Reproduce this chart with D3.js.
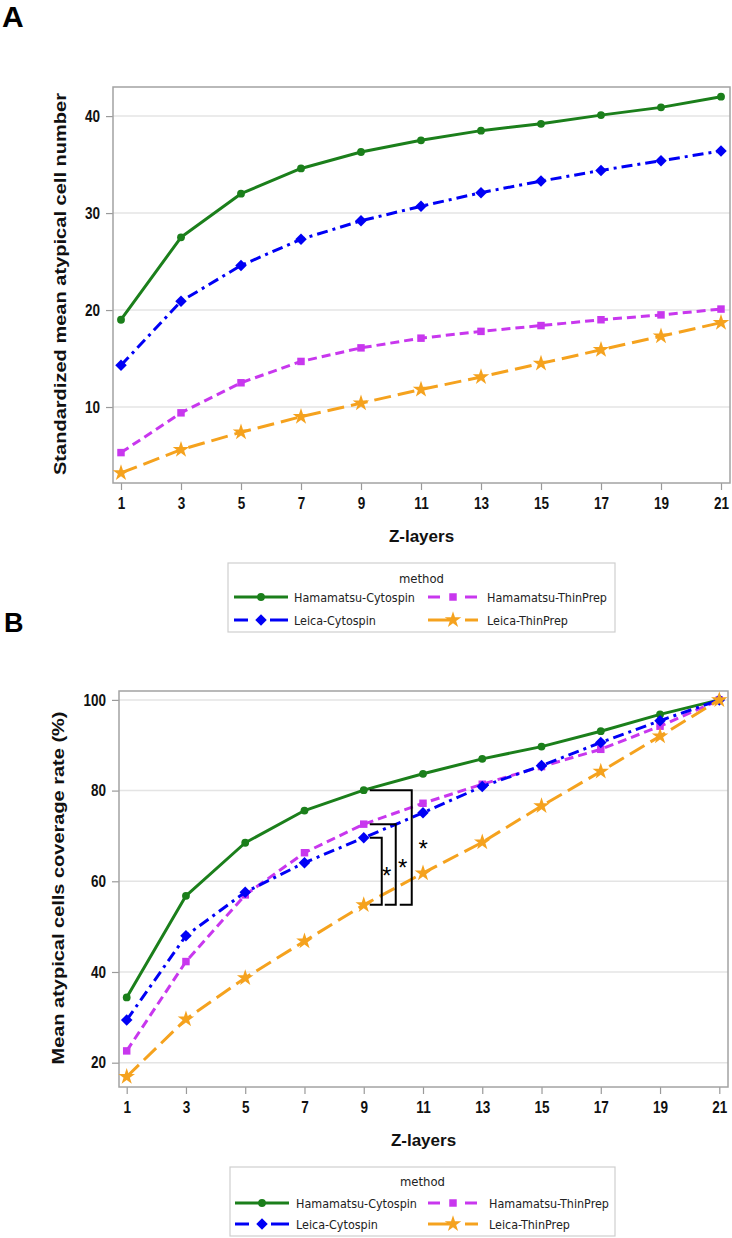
<!DOCTYPE html>
<html><head><meta charset="utf-8">
<script src="https://cdn.jsdelivr.net/npm/d3@7"></script>
<style>body{margin:0;background:#fff}</style></head>
<body><svg id="c" width="732" height="1238" xmlns="http://www.w3.org/2000/svg"></svg>
<script>
// ---------- DATA ----------
const zLayers = [1, 3, 5, 7, 9, 11, 13, 15, 17, 19, 21];
const methods = ["Hamamatsu-Cytospin", "Leica-Cytospin", "Hamamatsu-ThinPrep", "Leica-ThinPrep"];
const legendOrder = ["Hamamatsu-Cytospin", "Hamamatsu-ThinPrep", "Leica-Cytospin", "Leica-ThinPrep"];

// Panel A: standardized mean atypical cell number
const countHamamatsuCytospin = [19.0, 27.5, 32.0, 34.6, 36.3, 37.5, 38.5, 39.2, 40.1, 40.9, 42.0];
const countLeicaCytospin     = [14.3, 20.9, 24.6, 27.3, 29.2, 30.7, 32.1, 33.3, 34.4, 35.4, 36.4];
const countHamamatsuThinPrep = [5.3, 9.4, 12.5, 14.7, 16.1, 17.1, 17.8, 18.4, 19.0, 19.5, 20.1];
const countLeicaThinPrep     = [3.2, 5.6, 7.4, 9.0, 10.4, 11.8, 13.1, 14.5, 15.9, 17.3, 18.7];

// Panel B: mean atypical cells coverage rate (%)
const rateHamamatsuCytospin = [34.4, 56.8, 68.5, 75.6, 80.1, 83.7, 87.0, 89.7, 93.1, 96.8, 100];
const rateLeicaCytospin     = [29.4, 48.0, 57.6, 64.1, 69.6, 75.1, 80.9, 85.5, 90.6, 95.4, 100];
const rateHamamatsuThinPrep = [22.6, 42.3, 57.0, 66.3, 72.6, 77.2, 81.4, 85.3, 89.1, 94.2, 100];
const rateLeicaThinPrep     = [16.9, 29.6, 38.7, 46.8, 54.8, 61.8, 68.6, 76.6, 84.2, 92.0, 100];

const yTicksA = [10, 20, 30, 40];
const yTicksB = [20, 40, 60, 80, 100];
const xTicks = zLayers;

// significance brackets at Z-layer 9 (each vs Leica-ThinPrep)
const sigLayer = 9;
const sigTop = ["Leica-Cytospin", "Hamamatsu-ThinPrep", "Hamamatsu-Cytospin"];
const sigBottom = "Leica-ThinPrep";
const sigLabel = "*";

// ---------- STYLES ----------
const diamond = d3.symbolDiamond2 || d3.symbolDiamond;
const style = {
  "Hamamatsu-Cytospin": {color: "#1b7f1b", dash: null, sym: d3.symbolCircle, size: 48, seg: [[-27, 27]]},
  "Leica-Cytospin":     {color: "#0000f5", dash: "11,5,3,5", sym: diamond, size: 85, seg: [[-27, -13], [9, 27]]},
  "Hamamatsu-ThinPrep": {color: "#c837ee", dash: "9,5", sym: d3.symbolSquare, size: 56, seg: [[-25, -13], [12, 24]]},
  "Leica-ThinPrep":     {color: "#f5a21e", dash: "17,7", sym: d3.symbolStar, size: 85, seg: [[-25, -3], [12, 25]]}
};

const svg = d3.select("#c");
const boldFont = "'Liberation Sans',Arial,sans-serif";
const legFont = "'DejaVu Sans Condensed','DejaVu Sans',sans-serif";

// size the legend font so that "Hamamatsu-Cytospin" is ~121px wide, as in the reference
const probe = svg.append("text").attr("font-family", legFont).attr("font-size", 13).text("Hamamatsu-Cytospin");
const probeW = probe.node().getComputedTextLength() || 121;
probe.remove();
const legFS = Math.max(11, Math.min(15, 13 * 121 / probeW));

function panel(cfg) {
  const g = svg.append("g");
  const {l, t, r, b} = cfg.frame;
  const x = d3.scaleLinear().domain([1, 21]).range(cfg.xRange);
  const y = d3.scaleLinear().domain(cfg.yDomain).range([b, t]);

  // panel letter
  g.append("text").attr("x", cfg.letterPos[0]).attr("y", cfg.letterPos[1])
    .attr("font-family", boldFont).attr("font-weight", "bold")
    .attr("font-size", cfg.letterSize).text(cfg.letter);

  // gridlines
  g.append("g").selectAll("line").data(cfg.yTicks).join("line")
    .attr("x1", l).attr("x2", r).attr("y1", d => y(d)).attr("y2", d => y(d))
    .attr("stroke", "#e4e4e4").attr("stroke-width", 1.5);

  // axes
  const xa = g.append("g").attr("transform", `translate(0,${b})`)
    .call(d3.axisBottom(x).tickValues(xTicks).tickSize(7).tickPadding(7).tickFormat(d3.format("d")));
  const ya = g.append("g").attr("transform", `translate(${l},0)`)
    .call(d3.axisLeft(y).tickValues(cfg.yTicks).tickSize(7).tickPadding(6));
  [xa, ya].forEach(a => {
    a.select(".domain").remove();
    a.selectAll(".tick line").attr("stroke", "#9a9a9a").attr("stroke-width", 1.2);
    a.selectAll(".tick text").attr("font-family", boldFont).attr("font-weight", "bold")
      .attr("font-size", 16.5).attr("fill", "#111");
  });
  xa.selectAll(".tick text").attr("transform", "scale(0.82,1)");
  ya.selectAll(".tick text").each(function () {
    const tx = +d3.select(this).attr("x");
    d3.select(this).attr("x", tx / 0.82).attr("transform", "scale(0.82,1)");
  });

  // frame
  g.append("rect").attr("x", l).attr("y", t).attr("width", r - l).attr("height", b - t)
    .attr("fill", "none").attr("stroke", "#a3a3a3").attr("stroke-width", 1.5);

  // axis titles
  g.append("text").attr("x", (l + r) / 2).attr("y", cfg.xTitleY).attr("text-anchor", "middle")
    .attr("font-family", boldFont).attr("font-weight", "bold").attr("font-size", 17)
    .attr("fill", "#111").text("Z-layers");
  g.append("text")
    .attr("transform", `translate(${cfg.yTitlePos[0]},${cfg.yTitlePos[1]}) rotate(-90)`)
    .attr("text-anchor", "middle").attr("font-family", boldFont).attr("font-weight", "bold")
    .attr("font-size", 17).attr("fill", "#111")
    .attr("textLength", cfg.yTitleLen).attr("lengthAdjust", "spacingAndGlyphs")
    .text(cfg.yTitle);

  // lines
  const line = d3.line().x(d => x(d[0])).y(d => y(d[1]));
  const drawOrder = ["Hamamatsu-Cytospin", "Hamamatsu-ThinPrep", "Leica-Cytospin", "Leica-ThinPrep"];
  drawOrder.forEach(m => {
    const st = style[m];
    const pts = zLayers.map((z, i) => [z, cfg.series[m][i]]);
    g.append("path").attr("d", line(pts)).attr("fill", "none").attr("stroke", st.color)
      .attr("stroke-width", 3).attr("stroke-dasharray", st.dash).attr("stroke-linejoin", "round");
    g.append("g").selectAll("path").data(pts).join("path")
      .attr("transform", d => `translate(${x(d[0])},${y(d[1])})`)
      .attr("d", d3.symbol().type(st.sym).size(st.size)).attr("fill", st.color);
  });

  // significance brackets
  if (cfg.sig) {
    const i9 = zLayers.indexOf(sigLayer);
    const x9 = x(sigLayer);
    const yb = y(cfg.series[sigBottom][i9]);
    const geo = [{vx: 18, bx: 6, ax: 23}, {vx: 32, bx: 21, ax: 39}, {vx: 48, bx: 36, ax: 59.5}];
    sigTop.forEach((m, k) => {
      const yt = y(cfg.series[m][i9]);
      const gg = geo[k];
      g.append("path")
        .attr("d", `M${x9 + 6},${yt}H${x9 + gg.vx}V${yb}H${x9 + gg.bx}`)
        .attr("fill", "none").attr("stroke", "#000").attr("stroke-width", 2);
      g.append("text").attr("x", x9 + gg.ax).attr("y", (yt + yb) / 2 + 13 - k * 2)
        .attr("text-anchor", "middle").attr("font-family", boldFont).attr("font-size", 24)
        .text(sigLabel);
    });
  }

  // legend
  const L = cfg.legend;
  g.append("rect").attr("x", L.x0).attr("y", L.y0).attr("width", L.x1 - L.x0).attr("height", L.y1 - L.y0)
    .attr("fill", "#fff").attr("stroke", "#cfcfcf").attr("stroke-width", 1.2);
  g.append("text").attr("x", (L.x0 + L.x1) / 2).attr("y", L.titleY).attr("text-anchor", "middle")
    .attr("font-family", legFont).attr("font-size", legFS + 0.5).attr("fill", "#222").text("method");
  legendOrder.forEach((m, i) => {
    const col = i % 2, row = Math.floor(i / 2);
    const cx = L.sampleCx[col], cy = L.rowY[row];
    const st = style[m];
    st.seg.forEach(s => {
      g.append("line").attr("x1", cx + s[0]).attr("x2", cx + s[1]).attr("y1", cy).attr("y2", cy)
        .attr("stroke", st.color).attr("stroke-width", 3);
    });
    g.append("path").attr("transform", `translate(${cx},${cy})`)
      .attr("d", d3.symbol().type(st.sym).size(st.size)).attr("fill", st.color);
    g.append("text").attr("x", L.textX[col]).attr("y", cy + 5)
      .attr("font-family", legFont).attr("font-size", legFS).attr("fill", "#222").text(m);
  });
}

panel({
  letter: "A", letterPos: [2, 27], letterSize: 30,
  frame: {l: 113, t: 87, r: 730, b: 483},
  xRange: [121, 721], yDomain: [2.165, 43],
  yTicks: yTicksA,
  series: {
    "Hamamatsu-Cytospin": countHamamatsuCytospin, "Leica-Cytospin": countLeicaCytospin,
    "Hamamatsu-ThinPrep": countHamamatsuThinPrep, "Leica-ThinPrep": countLeicaThinPrep
  },
  xTitleY: 542, yTitle: "Standardized mean atypical cell number", yTitlePos: [66, 284], yTitleLen: 382,
  sig: false,
  legend: {x0: 228, x1: 615, y0: 563, y1: 632, titleY: 583, rowY: [597, 620], sampleCx: [261, 453], textX: [294, 487]}
});

panel({
  letter: "B", letterPos: [4, 632], letterSize: 27,
  frame: {l: 119, t: 691, r: 728, b: 1087},
  xRange: [126.7, 719.3], yDomain: [14.64, 101.96],
  yTicks: yTicksB,
  series: {
    "Hamamatsu-Cytospin": rateHamamatsuCytospin, "Leica-Cytospin": rateLeicaCytospin,
    "Hamamatsu-ThinPrep": rateHamamatsuThinPrep, "Leica-ThinPrep": rateLeicaThinPrep
  },
  xTitleY: 1146, yTitle: "Mean atypical cells coverage rate (%)", yTitlePos: [64, 888], yTitleLen: 353,
  sig: true,
  legend: {x0: 230, x1: 615, y0: 1167, y1: 1236, titleY: 1186, rowY: [1203, 1224], sampleCx: [262, 453], textX: [296, 489]}
});
</script></body></html>
